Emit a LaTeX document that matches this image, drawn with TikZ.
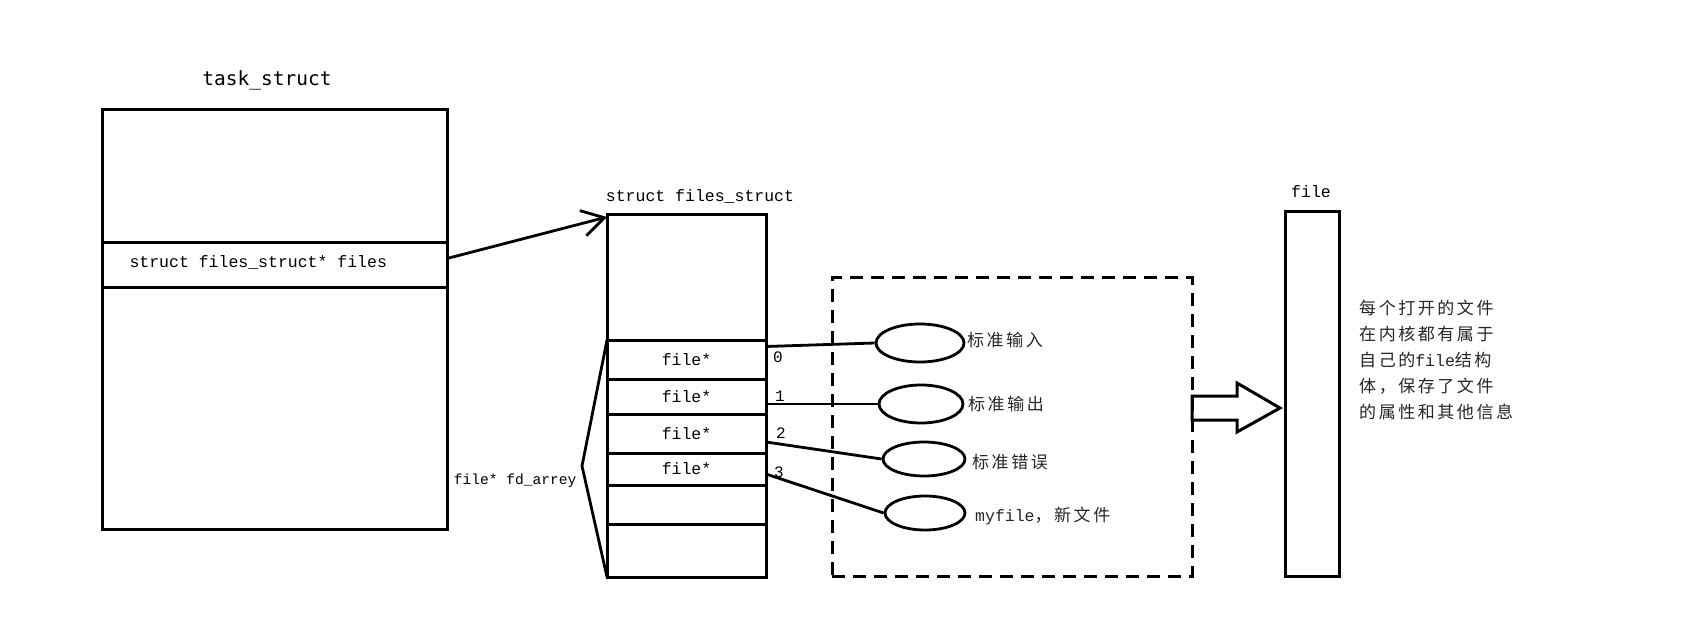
\documentclass[tikz,border=0pt]{standalone}
\usepackage{fontspec}
\setmonofont{Liberation Mono}
\newfontfamily\cjk{Noto Sans CJK SC}[LetterSpace=15]
\newfontfamily\titlemono{DejaVu Sans Mono}
\usetikzlibrary{arrows.meta,calc,shapes.geometric}

\begin{document}
\begin{tikzpicture}[x=1pt,y=-1pt,
  box/.style={draw, line width=3pt, inner sep=0pt, outer sep=0pt, anchor=north west},
  slot/.style={box, minimum width=159pt},
  mono/.style={font=\ttfamily\fontsize{16.5}{18}\selectfont, text=black},
  small/.style={font=\ttfamily\fontsize{14.6}{16}\selectfont, text=black},
  num/.style={font=\ttfamily\fontsize{16}{17}\selectfont, text=black},
  cjklabel/.style={font=\cjk\fontsize{17}{20}\selectfont, text=black!85, anchor=west, inner sep=0pt},
  link/.style={line width=2.8pt},
  oval/.style={draw, ellipse, line width=2.8pt, inner sep=0pt}]

\fill[white] (0,0) rectangle (1702,628);
\useasboundingbox (0,0) rectangle (1702,628);

% task_struct with its files pointer
\node[font=\titlemono\fontsize{19.5}{22}\selectfont] (ttitle) at (267,80) {task\_struct};
\node[box, minimum width=345pt, minimum height=419pt] (task) at (102,110) {};
\node[box, minimum width=345pt, minimum height=45pt] (trow) at (102,243) {};
\node[mono, anchor=west] (ttext) at (126,262) {struct files\_struct* files};

% files_struct and its fd array
\node[mono] (fstitle) at (700,196) {struct files\_struct};
\node[box, minimum width=159pt, minimum height=362pt] (fs) at (607,215) {};
\node[slot, minimum height=39pt, mono] (r0) at (607,340) {file*};
\node[slot, minimum height=35pt, mono] (r1) at (607,379) {file*};
\node[slot, minimum height=39pt, mono] (r2) at (607,414) {file*};
\node[slot, minimum height=32pt, mono] (r3) at (607,453) {file*};
\node[slot, minimum height=39pt] (r4) at (607,485) {};

\node[num] (n0) at (778,357) {0};
\node[num] (n1) at (780,396) {1};
\node[num] (n2) at (781,433) {2};
\node[num] (n3) at (779,472) {3};

\draw[link, -{Straight Barb[length=22pt, width=26pt, line width=2.8pt]}]
  ([yshift=7pt]trow.east) -- ([yshift=-2pt]fs.north west);

% brace over the fd array
\coordinate (tip) at (582,466);
\draw[link] (r0.north west) -- (tip) -- (fs.south west);
\node[small, anchor=east] (fdl) at (580,481) {file* fd\_arrey};

% opened files
\node[box, dashed, dash pattern=on 13pt off 8pt, minimum width=360pt, minimum height=298pt] (grp) at (832,278) {};
\node[oval, minimum width=88pt, minimum height=38pt] (e0) at (920,343) {};
\node[oval, minimum width=84pt, minimum height=38pt] (e1) at (921,404) {};
\node[oval, minimum width=82pt, minimum height=34pt] (e2) at (924,459) {};
\node[oval, minimum width=80pt, minimum height=34pt] (e3) at (925,513) {};

\draw[link] ([yshift=13pt]r0.east) -- (e0.west);
\draw[link] ([yshift=-7.5pt]r1.east) -- (e1.west);
\draw[link] ([yshift=-8.5pt]r2.east) -- (e2.west);
\draw[link] ([yshift=-5pt]r3.east) -- (e3.west);

\node[cjklabel] (l0) at (967,340) {标准输入};
\node[cjklabel] (l1) at (968,404) {标准输出};
\node[cjklabel] (l2) at (972,462) {标准错误};
\node[cjklabel] (l3) at (975,516) {{\ttfamily\fontsize{16.5}{18}\selectfont myfile}，新文件};

% hollow arrow into the file structure
\path (grp.east) ++(0,-19) coordinate (tail);
\draw[line width=3pt, line join=miter]
  (tail) ++(0,-12) -- ++(45,0) -- ++(0,-13) -- ++(43,25) -- ++(-43,24) -- ++(0,-12) -- ++(-45,0) -- cycle;

% file structure
\node[mono] (flab) at (1311,192) {file};
\node[box, minimum width=54pt, minimum height=364pt] (fbox) at (1285,212) {};

\node[font=\cjk\fontsize{17}{26}\selectfont, text=black!85, align=left, anchor=north west, inner sep=0pt] (desc) at (1359,300)
  {每个打开的文件\\在内核都有属于\\自己的{\ttfamily\fontsize{16.5}{18}\selectfont file}结构\\体，保存了文件\\的属性和其他信息};
\end{tikzpicture}
\end{document}
